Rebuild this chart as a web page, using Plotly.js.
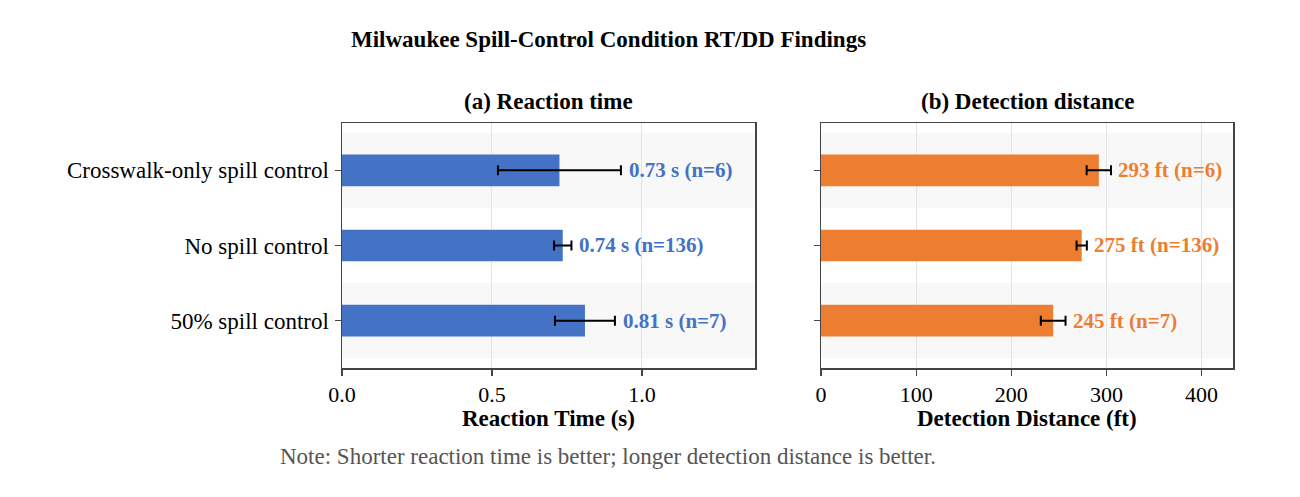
<!DOCTYPE html>
<html><head><meta charset="utf-8">
<script src="https://cdn.plot.ly/plotly-3.0.1.min.js"></script>
<style>body{margin:0;background:#fff}#c{width:1300px;height:497px}</style>
</head><body><div id="c"></div>
<script>
const categories = ["Crosswalk-only spill control", "No spill control", "50% spill control"];
const rtValues = [0.725, 0.736, 0.81];
const rtErrors = [0.205, 0.029, 0.10];
const rtLabels = ["0.73 s (n=6)", "0.74 s (n=136)", "0.81 s (n=7)"];
const ddValues = [292, 274, 244];
const ddErrors = [12.8, 5.4, 13.0];
const ddLabels = ["293 ft (n=6)", "275 ft (n=136)", "245 ft (n=7)"];
const rtTicks = [0, 0.5, 1.0];
const rtTickText = ["0.0", "0.5", "1.0"];
const ddTicks = [0, 100, 200, 300, 400];

const FONT = "Liberation Serif, Times New Roman, serif";
const BLUE = "#4472C4", ORANGE = "#ED7D31";

const traces = [
  {type:"bar", orientation:"h", x: rtValues, y: categories, xaxis:"x", yaxis:"y",
   marker:{color:BLUE}, width:0.42,
   error_x:{type:"data", array: rtErrors, visible:true, color:"#000", thickness:2, width:5},
   hoverinfo:"none"},
  {type:"bar", orientation:"h", x: ddValues, y: categories, xaxis:"x2", yaxis:"y2",
   marker:{color:ORANGE}, width:0.42,
   error_x:{type:"data", array: ddErrors, visible:true, color:"#000", thickness:2, width:5},
   hoverinfo:"none"}
];

const annotations = [];
categories.forEach((c,i)=>{
  annotations.push({xref:"x", yref:"y", x: rtValues[i]+rtErrors[i], y: c, text:"<b>"+rtLabels[i]+"</b>",
    showarrow:false, xanchor:"left", xshift:6, font:{family:FONT, size:21, color:BLUE}});
  annotations.push({xref:"x2", yref:"y2", x: ddValues[i]+ddErrors[i], y: c, text:"<b>"+ddLabels[i]+"</b>",
    showarrow:false, xanchor:"left", xshift:5, font:{family:FONT, size:21, color:ORANGE}});
});
annotations.push({xref:"paper", yref:"paper", x:608/1300, y:1-40/497, text:"<b>Milwaukee Spill-Control Condition RT/DD Findings</b>",
  showarrow:false, xanchor:"center", yanchor:"middle", font:{family:FONT, size:23, color:"#000"}});
annotations.push({xref:"paper", yref:"paper", x:(342+755)/2/1300, y:1-101/497, text:"<b>(a) Reaction time</b>",
  showarrow:false, xanchor:"center", yanchor:"middle", font:{family:FONT, size:23, color:"#000"}});
annotations.push({xref:"paper", yref:"paper", x:(821+1233)/2/1300, y:1-101/497, text:"<b>(b) Detection distance</b>",
  showarrow:false, xanchor:"center", yanchor:"middle", font:{family:FONT, size:23, color:"#000"}});
annotations.push({xref:"paper", yref:"paper", x:(342+755)/2/1300, y:1-418/497, text:"<b>Reaction Time (s)</b>",
  showarrow:false, xanchor:"center", yanchor:"middle", font:{family:FONT, size:23, color:"#000"}});
annotations.push({xref:"paper", yref:"paper", x:(821+1233)/2/1300, y:1-418/497, text:"<b>Detection Distance (ft)</b>",
  showarrow:false, xanchor:"center", yanchor:"middle", font:{family:FONT, size:23, color:"#000"}});
annotations.push({xref:"paper", yref:"paper", x:608/1300, y:1-456/497, text:"Note: Shorter reaction time is better; longer detection distance is better.",
  showarrow:false, xanchor:"center", yanchor:"middle", font:{family:FONT, size:23, color:"#555"}});

const shapes = [];
[0,2].forEach(k=>{
  ["", "2"].forEach(s=>{
    shapes.push({type:"rect", xref:"x"+s+" domain", yref:"y"+s, x0:0, x1:1, y0:k-0.5, y1:k+0.5,
      fillcolor:"#f8f8f8", line:{width:0}, layer:"below"});
  });
});

const yTop = 1-123/497, yBot = 1-368/497;
const axCommon = {showline:true, mirror:true, linecolor:"#444", linewidth:1.5, zeroline:false,
  ticks:"outside", ticklen:6, tickcolor:"#444", tickwidth:1.2,
  tickfont:{family:FONT, size:22, color:"#000"}};

const layout = {
  width:1300, height:497, margin:{l:0,r:0,t:0,b:0}, showlegend:false,
  paper_bgcolor:"#fff", plot_bgcolor:"#fff",
  xaxis:Object.assign({}, axCommon, {domain:[342/1300, 755/1300], anchor:"y", range:[0,1.377],
    tickvals:rtTicks, ticktext:rtTickText, showgrid:true, gridcolor:"#e3e3e3", gridwidth:1}),
  yaxis:Object.assign({}, axCommon, {domain:[yBot, yTop], anchor:"x", type:"category",
    range:[2.63,-0.63], showgrid:false, ticklabelstandoff:1,
    tickfont:{family:FONT, size:23, color:"#000"}}),
  xaxis2:Object.assign({}, axCommon, {domain:[821/1300, 1233/1300], anchor:"y2", range:[0,433],
    tickvals:ddTicks, showgrid:true, gridcolor:"#e3e3e3", gridwidth:1}),
  yaxis2:Object.assign({}, axCommon, {domain:[yBot, yTop], anchor:"x2", type:"category",
    range:[2.63,-0.63], showgrid:false, showticklabels:false}),
  annotations: annotations, shapes: shapes
};

Plotly.newPlot("c", traces, layout, {staticPlot:true, displayModeBar:false});
</script></body></html>
